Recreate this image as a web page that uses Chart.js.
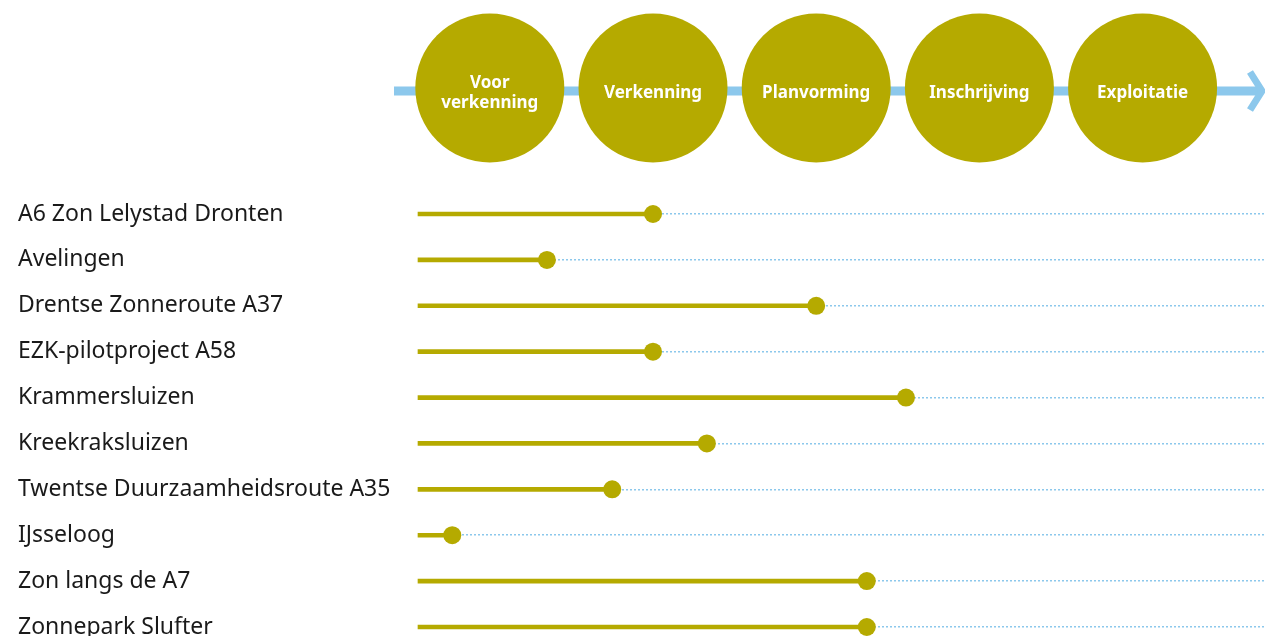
<!DOCTYPE html>
<html>
<head>
<meta charset="utf-8">
<script src="https://cdn.jsdelivr.net/npm/chart.js@4.4.1/dist/chart.umd.min.js"></script>
<style>
  html, body { margin: 0; padding: 0; background: #fff; }
  #wrap { width: 1265px; height: 636px; }
</style>
</head>
<body>
<div id="wrap"><canvas id="phaseChart"></canvas></div>
<script>
const projects = [
    'A6 Zon Lelystad Dronten',
    'Avelingen',
    'Drentse Zonneroute A37',
    'EZK-pilotproject A58',
    'Krammersluizen',
    'Kreekraksluizen',
    'Twentse Duurzaamheidsroute A35',
    'IJsseloog',
    'Zon langs de A7',
    'Zonnepark Slufter'
]
// progress in phase units (1 = Voorverkenning ... 5 = Exploitatie)
const progress = [2.0, 1.35, 3.0, 2.0, 3.55, 2.33, 1.75, 0.77, 3.31, 3.31]

const phaseNames = [['Voor', 'verkenning'], ['Verkenning'], ['Planvorming'], ['Inschrijving'], ['Exploitatie']]
const phasePos = [1, 2, 3, 4, 5]

const X_MIN = 0.56
const X_MAX = 5.75

const OLIVE = '#b5aa00'
const BLUE = '#8cc8ec'

// bars run from the start of the axis to the current phase
let barData = []
for (var i = 0; i < progress.length; i++) {
    barData[i] = [X_MIN, progress[i]]
}

// circles + arrow above the chart
const phasePlugin = {
    id: 'phases',
    afterDraw(chart) {
        const ctx = chart.ctx
        const x = chart.scales.x
        const area = chart.chartArea
        const cy = area.top - 126

        ctx.save()
        ctx.strokeStyle = BLUE
        ctx.lineWidth = 9
        ctx.beginPath()
        ctx.moveTo(area.left - 24, cy + 3)
        ctx.lineTo(area.right - 5, cy + 3)
        ctx.stroke()

        ctx.lineWidth = 7
        ctx.beginPath()
        ctx.moveTo(area.right - 15, cy - 16)
        ctx.lineTo(area.right - 3, cy + 3)
        ctx.lineTo(area.right - 15, cy + 22)
        ctx.stroke()

        for (var i = 0; i < phasePos.length; i++) {
            const px = x.getPixelForValue(phasePos[i])
            ctx.fillStyle = OLIVE
            ctx.beginPath()
            ctx.arc(px, cy, 74.5, 0, Math.PI * 2)
            ctx.fill()

            ctx.fillStyle = '#ffffff'
            ctx.font = 'bold 17px "Noto Sans"'
            ctx.textAlign = 'center'
            ctx.textBaseline = 'middle'
            const lines = phaseNames[i]
            for (var j = 0; j < lines.length; j++) {
                const ly = cy + 5 + (j - (lines.length - 1) / 2) * 20
                ctx.fillText(lines[j], px, ly)
            }
        }
        ctx.restore()
    }
}

new Chart(document.getElementById('phaseChart'), {
    type: 'bar',
    data: {
        labels: projects,
        datasets: [
            {
                type: 'line',
                label: 'Fase',
                indexAxis: 'y',
                data: progress,
                showLine: false,
                pointRadius: 9,
                pointHoverRadius: 9,
                pointBackgroundColor: OLIVE,
                pointBorderWidth: 0,
                clip: false
            },
            {
                label: 'Voortgang',
                data: barData,
                backgroundColor: OLIVE,
                barThickness: 4,
                clip: false
            }
        ]
    },
    options: {
        indexAxis: 'y',
        responsive: true,
        maintainAspectRatio: false,
        animation: false,
        layout: {
            autoPadding: false,
            padding: { top: 214, bottom: 9, left: 18, right: 0 }
        },
        plugins: {
            legend: { display: false },
            tooltip: { enabled: false }
        },
        scales: {
            x: {
                display: false,
                min: X_MIN,
                max: X_MAX
            },
            y: {
                offset: false,
                border: { display: false, dash: [2, 2] },
                grid: {
                    offset: false,
                    color: BLUE,
                    lineWidth: 1.5,
                    drawTicks: false
                },
                ticks: {
                    crossAlign: 'far',
                    color: '#1a1a1a',
                    padding: 0,
                    font: { family: 'Noto Sans', size: 23 }
                },
                afterFit: function (scale) {
                    scale.width = 400
                    // last label may hang below the plot area
                    scale.paddingBottom = 0
                    scale.paddingTop = 0
                }
            }
        }
    },
    plugins: [phasePlugin]
});
</script>
</body>
</html>
